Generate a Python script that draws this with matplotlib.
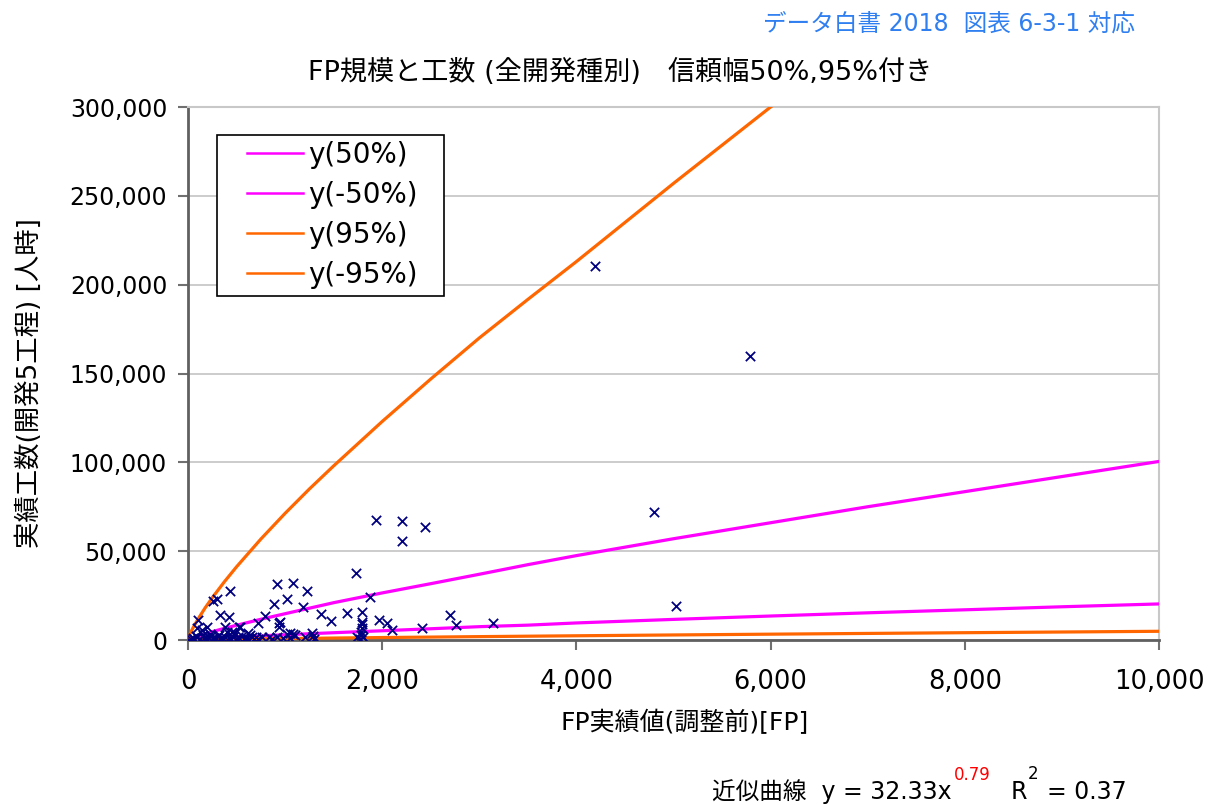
import matplotlib
matplotlib.use("Agg")
import matplotlib.pyplot as plt
from matplotlib.ticker import FuncFormatter
from matplotlib.patches import Rectangle
import numpy as np

plt.rcParams['font.family'] = ['DejaVu Sans', 'Noto Sans CJK JP']

# ---- data ----
fp_x = [4190, 5790, 4800, 5030, 1935, 2205, 2205, 2440, 1730, 1875, 2410, 2700,
        2760, 3140, 915, 1085, 433, 261, 296, 1225, 1016, 889, 1180, 1367, 1470,
        1637, 1790, 1790, 1795, 1790, 1785, 1780, 1775, 1970, 2053, 2100, 790,
        721, 947, 934, 330, 425, 106, 199, 89, 381, 528, 1274, 1291, 1016, 1085,
        838, 913, 700, 450, 484, 535, 621, 50, 80, 120, 150, 180, 210, 240, 260,
        290, 320, 350, 380, 400, 420, 460, 500, 560, 600, 640, 680, 760, 1050,
        1100, 1200, 1300, 140, 230, 30, 10, 1740, 941, 1050, 270, 330, 620, 1800,
        60, 95, 160, 200, 255, 310, 365, 440, 520, 580, 660, 720, 860, 980]
mh_y = [210500, 160000, 71800, 19200, 67800, 67100, 55800, 63700, 37800, 24000,
        6700, 13900, 8700, 9800, 31800, 32200, 27800, 22200, 23000, 27500, 22900,
        20200, 18700, 14400, 10700, 15100, 15900, 10300, 8800, 6600, 4700, 2800,
        600, 11300, 9400, 5400, 13500, 9400, 10000, 7500, 14100, 12800, 11300, 7500,
        6600, 7500, 7500, 4100, 2200, 3400, 3400, 1900, 1900, 1900, 4700, 3800,
        7500, 3800, 1000, 2500, 800, 3000, 500, 1500, 2200, 600, 1200, 3000, 500,
        1800, 4500, 900, 1500, 600, 2000, 1200, 2600, 800, 1500, 1000, 2600, 1800,
        800, 5500, 3600, 300, 100, 1500, 9700, 3800, 1200, 400, 600, 1700,
        400, 1800, 900, 300, 1100, 2100, 1300, 300, 1900, 700, 1600, 500, 700, 1200]

curve_x = [0, 25, 50, 100, 175, 250, 375, 500, 750, 1000, 1250, 1500, 2000, 2500,
           3000, 3500, 4000, 5000, 6000, 7000, 8000, 9000, 10000]
y_p50 = [0, 710, 1240, 2200, 3480, 4700, 6530, 8300, 11650, 14800, 17900, 21000,
         26500, 31700, 37000, 42400, 47500, 57000, 66000, 75000, 83500, 92000, 100500]
y_m50 = [0, 146, 256, 450, 707, 950, 1310, 1700, 2325, 2950, 3530, 4100, 5200,
         6330, 7500, 8360, 9600, 11600, 13500, 15300, 17000, 18700, 20300]
y_p95 = [0, 3870, 6680, 11500, 17960, 23800, 32800, 41200, 56800, 71300, 85000,
         98000, 123000, 146900, 170000, 191700, 213000, 257000, 300000, 338000,
         374000, 410000, 446000]
y_m95 = [0, 43, 75, 130, 200, 265, 365, 460, 635, 800, 950, 1100, 1380, 1640, 1900,
         2140, 2380, 2840, 3280, 3700, 4110, 4500, 4900]

W, H = 1211, 805
fig = plt.figure(figsize=(W / 100, H / 100), dpi=100)
ax = fig.add_axes([188 / W, 1 - 640 / H, (1159 - 188) / W, (640 - 107) / H])

ax.plot(curve_x, y_p50, color='#ff00ff', lw=2.3, label='y(50%)', zorder=3)
ax.plot(curve_x, y_m50, color='#ff00ff', lw=2.3, label='y(-50%)', zorder=3)
ax.plot(curve_x, y_p95, color='#ff6600', lw=2.3, label='y(95%)', zorder=3)
ax.plot(curve_x, y_m95, color='#ff6600', lw=2.3, label='y(-95%)', zorder=3)
ax.scatter(fp_x, mh_y, marker='x', s=45, color='#000080', linewidths=1.3, zorder=4)

ax.set_xlim(0, 10000)
ax.set_ylim(0, 300000)
ax.set_xticks(np.arange(0, 10001, 2000))
ax.set_yticks(np.arange(0, 300001, 50000))
fmt = FuncFormatter(lambda v, p: f"{int(v):,}")
ax.xaxis.set_major_formatter(fmt)
ax.yaxis.set_major_formatter(fmt)
ax.tick_params(length=7, width=1.5, color='#707070')
ax.tick_params(axis='y', pad=8, labelsize=17)
ax.tick_params(axis='x', pad=14, labelsize=18.5)
ax.yaxis.grid(True, color='#c8c8c8', lw=1.3)
ax.set_axisbelow(True)
for s in ['top', 'right']:
    ax.spines[s].set_color('#c8c8c8')
    ax.spines[s].set_linewidth(1.5)
for s in ['left', 'bottom']:
    ax.spines[s].set_color('#606060')
    ax.spines[s].set_linewidth(2)

# legend box drawn by hand so the padding matches
box = Rectangle(((217 - 188) / 971, (640 - 296) / 533), 227 / 971, 161 / 533,
                transform=ax.transAxes, facecolor='white', edgecolor='black',
                lw=1.2, zorder=5)
ax.add_patch(box)
leg = ax.legend(loc='upper left', bbox_to_anchor=((247 - 188) / 971, (640 - 141) / 533),
                fontsize=20, handlelength=2.0, handletextpad=0.2, labelspacing=0.43,
                borderpad=0, borderaxespad=0, frameon=False)
leg.set_zorder(6)
for h in leg.get_lines():
    h.set_linewidth(1.8)

fig.text(620 / W, 1 - 72 / H, 'FP規模と工数 (全開発種別)\u3000信頼幅50%,95%付き',
         ha='center', va='center', fontsize=19.5)
fig.text(1135 / W, 1 - 24 / H, 'データ白書 2018  図表 6-3-1 対応',
         ha='right', va='center', fontsize=17, color='#2f7ff0')
fig.text(685 / W, 1 - 722 / H, 'FP実績値(調整前)[FP]', ha='center', va='center',
         fontsize=18)
fig.text(30 / W, 1 - 383 / H, '実績工数(開発5工程) [人時]', ha='center', va='center',
         rotation=90, fontsize=19)

# fit formula, written in pieces so the exponent can be red
fig.canvas.draw()
r = fig.canvas.get_renderer()
base = 1 - 799 / H
t1 = fig.text(712 / W, base, '近似曲線  y = 32.33x', fontsize=17, va='baseline')
e1 = t1.get_window_extent(r)
fig.text((e1.x1 + 2) / W, 1 - 775 / H, '0.79', fontsize=12, color='red',
         va='center')
fig.text(1011 / W, base, 'R', fontsize=17, va='baseline')
fig.text(1028 / W, 1 - 774 / H, '2', fontsize=12, va='center')
fig.text(1047 / W, base, '= 0.37', fontsize=17, va='baseline')

fig.savefig('out.png', dpi=100)
